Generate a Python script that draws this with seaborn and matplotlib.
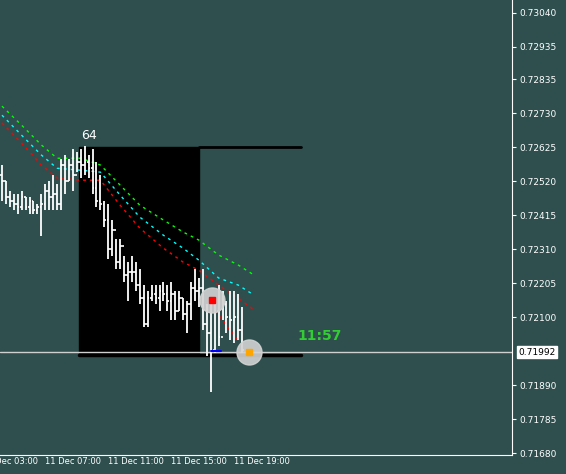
import matplotlib
matplotlib.use("Agg")
import matplotlib.pyplot as plt
import seaborn as sns
import numpy as np
import pandas as pd
from matplotlib.patches import Rectangle

highs = [.7257,.7252,.7249,.7248,.7248,.7249,.7247,.7247,.7246,.7245,.7248,.7251,.7252,.7254,.7251,.7259,.7260,.7259,.7262,.7261,
         .7262,.7263,.7260,.7262,.7258,.7254,.7246,.7245,.7240,.7234,.7234,.7229,.7227,.7229,.7227,.7225,.7220,.7218,.7220,.7220,
         .7220,.7221,.7220,.7221,.7218,.7218,.7216,.7215,.7221,.7225,.7222,.7225,.7214,.7215,.7215,.7220,.7218,.7215,.7218,.7218,.7217,.7213]
lows = [.7246,.7245,.7244,.7243,.7242,.7243,.7243,.7242,.7242,.7242,.7235,.7243,.7243,.7243,.7243,.7243,.7248,.7252,.7249,.7255,
        .7253,.7254,.7253,.7248,.7244,.7243,.7238,.7228,.7229,.7225,.7225,.7221,.7215,.7221,.7218,.7214,.7207,.7207,.7215,.7214,
        .7212,.7215,.7212,.7209,.7209,.7212,.7209,.7205,.7209,.7215,.7213,.7206,.7198,.7187,.7199,.7201,.7209,.7205,.7203,.7202,.7203,.7199]
closes = [.7252,.7247,.7246,.7245,.7244,.7247,.7244,.7246,.7243,.7244,.7245,.7249,.7247,.7248,.7245,.7257,.7252,.7257,.7254,.7258,
          .7257,.7258,.7256,.7250,.7246,.7245,.7240,.7231,.7237,.7227,.7232,.7223,.7224,.7224,.7220,.7216,.7208,.7216,.7217,.7216,
          .7218,.7217,.7215,.7217,.7212,.7216,.7211,.7214,.7219,.7218,.7219,.7208,.7205,.7200,.7212,.7204,.7214,.7210,.7209,.7210,.7206,.7200]
opens = [.7254] + closes[:-1]

ma_bars = [0,5,10,14,20,25,30,35,41,46,50,55,60,64]
ma_green = [.72752,.72693,.72632,.72591,.72591,.72570,.72508,.72446,.72400,.72363,.72338,.72292,.72261,.72230]
ma_cyan = [.72724,.72662,.72601,.72560,.72554,.72548,.72477,.72409,.72353,.72313,.72276,.72221,.72199,.72168]
ma_red = [.72700,.72638,.72570,.72530,.72523,.72523,.72446,.72375,.72313,.72270,.72245,.72199,.72159,.72122]
steep_bars = [53,57,61.5]
steep_red = [.72137,.72075,.72005]

yticks = [0.73040,0.72935,0.72835,0.72730,0.72625,0.72520,0.72415,0.72310,0.72205,0.72100,0.71890,0.71785,0.71680]
cur_price = 0.71992
xlabel_bars = [-5,11,27,43,59]
xlabels = ["11 Dec 03:00","11 Dec 07:00","11 Dec 11:00","11 Dec 15:00","11 Dec 19:00"]

bg = "#2F4F4F"
sns.set_style("dark", {"axes.facecolor": bg, "figure.facecolor": bg})
plt.rcParams['font.family'] = ['DejaVu Sans']

fig = plt.figure(figsize=(5.66,4.74), dpi=100)
ax = fig.add_axes([0, 19/474, 512/566, 455/474])
ax.set_facecolor(bg)

ax.add_patch(Rectangle((19.5, cur_price-0.00009), 30.5, 0.72625-cur_price+0.00009, color="black", zorder=1))
ax.plot([50, 76], [0.72625,0.72625], color="black", lw=2, zorder=1)
ax.plot([19.5, 76], [cur_price-0.00009]*2, color="black", lw=2.5, zorder=1)
ax.axhline(cur_price, color="#D0D0D0", lw=1, zorder=2)

df = pd.DataFrame({"bar": ma_bars, "g": ma_green, "c": ma_cyan, "r": ma_red})
for col, c in [("g","#00FF00"),("c","#00FFFF"),("r","#FF0000")]:
    sns.lineplot(data=df, x="bar", y=col, ax=ax, color=c, lw=1, zorder=3).lines[-1].set_dashes((2,3))
ax.plot(steep_bars, steep_red, color="#FF0000", lw=1, dashes=(2,3), zorder=3)

idx = np.arange(len(highs))
ax.vlines(idx, lows, highs, color="white", lw=1.3, zorder=4)
ax.hlines(opens, idx-0.45, idx, color="white", lw=1.2, zorder=4)
ax.hlines(closes, idx, idx+0.45, color="white", lw=1.2, zorder=4)

for bx, by, mc in [(53.3, 0.72153, "red"), (62.7, cur_price, "orange")]:
    ax.plot(bx, by, "o", ms=18, color="#D3D3D3", alpha=0.9, zorder=5)
    ax.plot(bx, by, "s", ms=4, color=mc, zorder=6)
ax.plot([53,55.5],[0.71995,0.71995], color="blue", lw=1.5, zorder=5)

ax.text(20, 0.72640, "64", color="white", fontsize=9, ha="left", va="bottom")
ax.text(75, 0.72020, "11:57", color="#32CD32", fontsize=10, fontweight="bold", ha="left", va="bottom")

ax.yaxis.tick_right()
ax.set_yticks(yticks)
ax.set_yticklabels([f"{v:.5f}" for v in yticks], fontsize=6.5, color="white")
ax.tick_params(axis="y", colors="white", length=3, labelsize=6.5, pad=2)
ax.text(1.012, cur_price, f"{cur_price:.5f}", transform=ax.get_yaxis_transform(), fontsize=6.5,
        color="black", va="center", ha="left", bbox=dict(facecolor="white", edgecolor="white", pad=1))
ax.set_xticks(xlabel_bars)
ax.set_xticklabels([])
ax.tick_params(axis="x", colors="white", length=3)
for b, lab in zip(xlabel_bars, xlabels):
    ax.text(b, -0.004, lab, transform=ax.get_xaxis_transform(), fontsize=6, color="white",
            ha="left", va="top", clip_on=False)
ax.set_xlim(-0.5, 129.5)
ax.set_ylim(0.71674, 0.73080)
ax.set_xlabel(""); ax.set_ylabel("")
for s in ["top","left"]:
    ax.spines[s].set_visible(False)
for s in ["right","bottom"]:
    ax.spines[s].set_color("white"); ax.spines[s].set_visible(True)
ax.grid(False)
fig.savefig("out.png", dpi=100, facecolor=bg)
